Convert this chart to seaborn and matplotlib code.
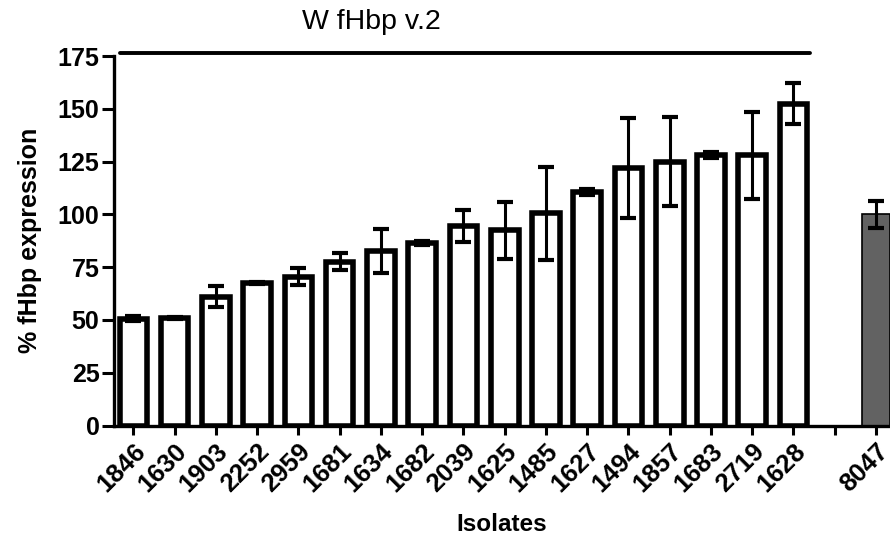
import matplotlib
matplotlib.use("Agg")
import matplotlib.pyplot as plt
import seaborn as sns
import pandas as pd

# ---- data ----
isolates = ["1846", "1630", "1903", "2252", "2959", "1681", "1634", "1682", "2039",
            "1625", "1485", "1627", "1494", "1857", "1683", "2719", "1628"]
isolate_means = [50.5, 51.0, 61.0, 67.5, 70.5, 77.5, 82.5, 86.5, 94.5,
                 92.5, 100.5, 110.5, 122.0, 125.0, 128.0, 128.0, 152.5]
isolate_err = [1.2, 0.5, 5.0, 0.5, 4.0, 4.0, 10.5, 1.0, 7.5,
               13.5, 22.0, 1.5, 23.5, 21.0, 1.5, 20.5, 9.5]
reference = ["8047"]
reference_means = [100.0]
reference_err = [6.5]
gap_label = " "
y_ticks = [0, 25, 50, 75, 100, 125, 150, 175]
group_title = "W fHbp v.2"

sns.set_theme(style="ticks")
plt.rcParams["font.family"] = ["Liberation Sans", "DejaVu Sans"]
plt.rcParams.update({"text.color": "black", "axes.labelcolor": "black",
                     "xtick.color": "black", "ytick.color": "black"})

names = isolates + reference
means = isolate_means + reference_means
errs = isolate_err + reference_err
order = isolates + [gap_label] + reference
df = pd.DataFrame({"isolate": names, "value": means})
palette = {n: "white" for n in isolates}
palette.update({n: "#626262" for n in reference})

fig = plt.figure(figsize=(8.9, 5.46), dpi=100)
ax = fig.add_axes([114 / 890, 120.5 / 546, 1 - 114 / 890, 369.5 / 546])

sns.barplot(data=df, x="isolate", y="value", hue="isolate", order=order,
            hue_order=names, palette=palette, dodge=False, legend=False,
            width=0.67, edgecolor="black", linewidth=4, errorbar=None, ax=ax)

for p in ax.patches:
    if p.get_facecolor()[0] < 0.9:
        p.set_linewidth(1.2)

pos = [order.index(n) for n in names]
ax.errorbar(pos, means, yerr=errs, fmt="none", ecolor="black",
            elinewidth=2.2, capsize=6, capthick=3, zorder=1)

ax.set_ylim(0, 175)
ax.set_xlim(-0.47, 18.34)
ax.set_yticks(y_ticks)
ax.set_yticklabels([str(t) for t in y_ticks], fontsize=18, fontweight="bold")
ax.set_xticks(range(len(order)))
ax.set_xticklabels(order, rotation=45, ha="right", va="top",
                   rotation_mode="anchor", fontsize=18.5, fontweight="bold")

for s in ["top", "right"]:
    ax.spines[s].set_visible(False)
for s in ["left", "bottom"]:
    ax.spines[s].set_linewidth(2.4)
    ax.spines[s].set_color("black")
ax.tick_params(axis="y", length=8.5, width=2.2, color="black", pad=2)
ax.tick_params(axis="x", length=6.5, width=2.2, color="black", pad=3)

ax.set_xlabel("Isolates", fontsize=17.5, fontweight="bold")
ax.xaxis.label.set_va("center")
ax.xaxis.set_label_coords(0.5, -0.269)
ax.set_ylabel("% fHbp expression", fontsize=18, fontweight="bold")
ax.yaxis.label.set_va("center")
ax.yaxis.set_label_coords(-0.108, 0.5)

# group bracket line and title
first = order.index(isolates[0])
last = order.index(isolates[-1])
ax.plot([first - 0.32, last + 0.4], [176.5, 176.5], color="black",
        linewidth=2.8, clip_on=False, solid_capstyle="round")
ax.text(5.77, 191, group_title, ha="center", va="center", fontsize=20.5,
        clip_on=False)

fig.savefig("out.png", dpi=100, facecolor="white")
